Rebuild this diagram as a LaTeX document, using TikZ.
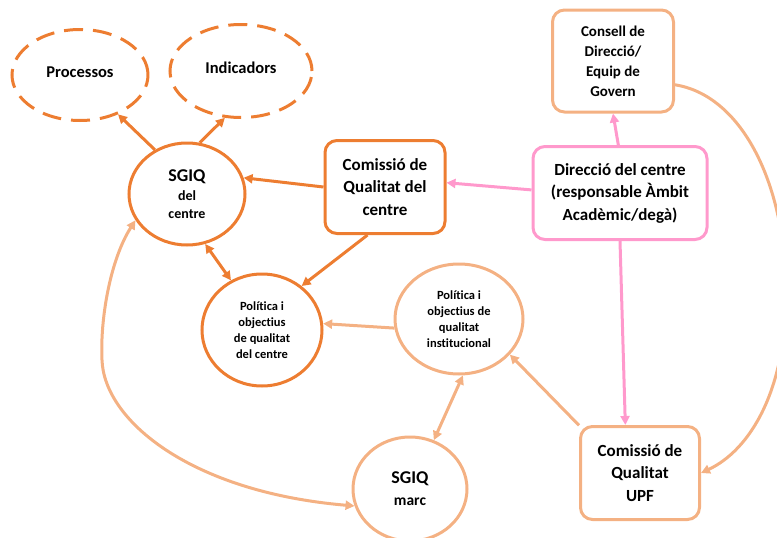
\documentclass[tikz,border=0pt]{standalone}
\usepackage{fontspec}
\setmainfont{Carlito}[Ligatures=NoCommon]
\usetikzlibrary{shapes.geometric,arrows.meta}
\definecolor{dorange}{HTML}{ED7D31}
\definecolor{lorange}{HTML}{F4B183}
\definecolor{pinkc}{HTML}{FF99CC}
\begin{document}
\begin{tikzpicture}[x=1pt,y=-1pt,
  every node/.style={inner sep=0pt, align=center, text=black},
  dashell/.style={ellipse, draw=dorange, line width=3pt, dash pattern=on 19pt off 10pt,
     font=\bfseries\fontsize{16.5}{20}\selectfont},
  dcirc/.style={ellipse, draw=dorange, line width=3pt},
  lcirc/.style={ellipse, draw=lorange, line width=3pt},
  dbox/.style={rectangle, rounded corners=12pt, draw=dorange, line width=3pt,
     font=\bfseries\fontsize{17}{22.5}\selectfont},
  lbox/.style={rectangle, rounded corners=12pt, draw=lorange, line width=3pt},
  pbox/.style={rectangle, rounded corners=12pt, draw=pinkc, line width=3pt,
     font=\bfseries\fontsize{17}{22.5}\selectfont},
  small/.style={font=\bfseries\fontsize{12.5}{16}\selectfont},
  tip/.style={-{Triangle[length=9pt,width=9pt]}},
  dtip/.style={{Triangle[length=9pt,width=9pt]}-{Triangle[length=9pt,width=9pt]}},
  darr/.style={draw=dorange, line width=3pt},
  larr/.style={draw=lorange, line width=3pt},
  parr/.style={draw=pinkc, line width=3pt}]
\useasboundingbox (0,0) rectangle (777,538);

% nodes
\node[dashell, minimum width=136pt, minimum height=91pt] (proc) at (80,75) {\raisebox{6pt}{Processos}};
\node[dashell, minimum width=142pt, minimum height=93pt] (ind) at (241,71) {\raisebox{6pt}{Indicadors}};
\node[dcirc, minimum width=116pt, minimum height=102pt,
      font=\bfseries\fontsize{14}{17.5}\selectfont] (sgiqc) at (187,194)
      {{\fontsize{18}{18}\selectfont SGIQ}\\[2pt]del\\centre};
\node[dbox, minimum width=120pt, minimum height=93pt] (comc) at (385,187)
      {Comissió de\\Qualitat del\\centre};
\node[pbox, minimum width=174pt, minimum height=93pt] (dir) at (620,193)
      {Direcció del centre\\(responsable Àmbit\\Acadèmic/degà)};
\node[lbox, minimum width=121pt, minimum height=102pt,
      font=\bfseries\fontsize{15}{20}\selectfont] (cons) at (613,61)
      {Consell de\\Direcció/\\Equip de\\Govern};
\node[dcirc, small, minimum width=120pt, minimum height=112pt] (polc) at (262,330)
      {Política i\\objectius\\de qualitat\\del centre};
\node[lcirc, small, minimum width=128pt, minimum height=110pt] (poli) at (459,319)
      {Política i\\objectius de\\qualitat\\institucional};
\node[lcirc, minimum width=114pt, minimum height=104pt,
      font=\bfseries\fontsize{15.5}{18}\selectfont] (marc) at (410,489)
      {{\fontsize{18}{18}\selectfont SGIQ}\\[4pt]marc};
\node[lbox, minimum width=119pt, minimum height=93pt,
      font=\bfseries\fontsize{17}{22.5}\selectfont] (upf) at (640,473)
      {Comissió de\\Qualitat\\UPF};

% dark orange connectors
\draw[darr, tip] (sgiqc.126) -- (proc.314);
\draw[darr, tip] (sgiqc.76) -- (ind.251);
\draw[darr, tip] (comc.west) -- (sgiqc.16);
\draw[darr, tip] (comc.250) -- (polc.48);
\draw[darr, dtip] (sgiqc.290) -- (polc.122);

% pink connectors
\draw[parr, tip] (dir.178) -- (comc.4);
\draw[parr, tip] (dir.92) -- (cons.south);
\draw[parr, tip] (dir.south) -- (upf.107);

% light orange connectors
\draw[larr, tip] (cons.-21) .. controls (740,95) and (785,180) .. (786,290)
      .. controls (787,390) and (750,450) .. (upf.east);
\draw[larr, tip] (upf.142) -- (poli.-35);
\draw[larr, dtip] (marc.64) -- (poli.-86);
\draw[larr, tip] (poli.188) -- (polc.6);
\draw[larr, dtip] (sgiqc.207) .. controls (110,260) and (100,320) .. (102,360)
      .. controls (104,420) and (190,492) .. (marc.197);
\end{tikzpicture}
\end{document}
